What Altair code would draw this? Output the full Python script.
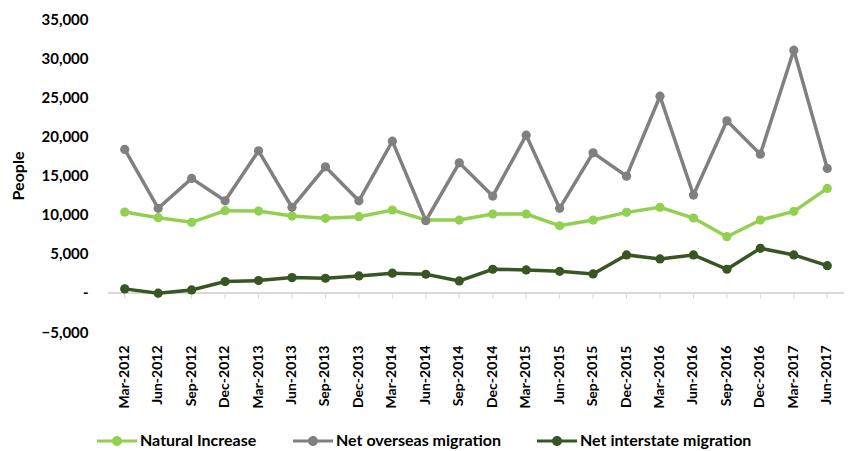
import altair as alt
import pandas as pd

quarters = ["Mar-2012", "Jun-2012", "Sep-2012", "Dec-2012",
            "Mar-2013", "Jun-2013", "Sep-2013", "Dec-2013",
            "Mar-2014", "Jun-2014", "Sep-2014", "Dec-2014",
            "Mar-2015", "Jun-2015", "Sep-2015", "Dec-2015",
            "Mar-2016", "Jun-2016", "Sep-2016", "Dec-2016",
            "Mar-2017", "Jun-2017"]

natural_increase = [10330, 9610, 9020, 10500, 10450, 9820, 9530, 9740,
                    10590, 9310, 9310, 10080, 10080, 8580, 9310, 10290,
                    10930, 9570, 7180, 9310, 10420, 13350]
net_overseas = [18330, 10800, 14630, 11770, 18150, 10930, 16110, 11770,
                19390, 9220, 16620, 12370, 20150, 10800, 17900, 14920,
                25130, 12500, 21980, 17730, 31000, 15900]
net_interstate = [510, -40, 380, 1440, 1570, 1950, 1870, 2170,
                  2510, 2380, 1530, 3020, 2930, 2760, 2420, 4850,
                  4340, 4850, 3020, 5700, 4850, 3480]
y_ticks = [-5000, 0, 5000, 10000, 15000, 20000, 25000, 30000, 35000]

series_names = ["Natural Increase", "Net overseas migration", "Net interstate migration"]
series_colors = ["#92D050", "#808080", "#375623"]

rows = []
for name, vals in zip(series_names, [natural_increase, net_overseas, net_interstate]):
    for q, v in zip(quarters, vals):
        rows.append({"Quarter": q, "Series": name, "People": v})
df = pd.DataFrame(rows)
cat_df = pd.DataFrame({"Quarter": quarters})

FONT = "Lato"
legend_path = ("M-2,-0.15 H2 V0.15 H-2 Z "
               "M0.5,0 A0.5,0.5 0 1,1 -0.5,0 A0.5,0.5 0 1,1 0.5,0 Z")

x_axis = alt.Axis(title=None, labelAngle=-90, domain=False, ticks=False,
                  grid=False, labelFontWeight="bold", labelFontSize=14,
                  labelPadding=13, labelColor="#000000", labelFont=FONT,
                  labelOverlap=False)
y_axis = alt.Axis(values=y_ticks,
                  labelExpr="datum.value == 0 ? '-\u00a0\u00a0\u00a0' : format(datum.value, ',')",
                  domain=False, ticks=False, gridColor="#D9D9D9", gridWidth=1,
                  labelFontWeight="bold", labelFontSize=15, labelColor="#000000",
                  labelPadding=20, labelFont=FONT, labelOverlap=False,
                  title="People", titleFontWeight="bold", titleFontSize=16,
                  titleColor="#000000", titleFont=FONT, titlePadding=14)
y_scale = alt.Scale(domain=[-5000, 35000], nice=False, zero=False)
x_scale = alt.Scale(padding=0)

x_enc = alt.X("Quarter:O", sort=quarters, scale=x_scale, axis=x_axis)
y_enc = alt.Y("People:Q", scale=y_scale, axis=y_axis)
color_enc = alt.Color("Series:N", sort=series_names,
                      scale=alt.Scale(domain=series_names, range=series_colors),
                      legend=alt.Legend(title=None, orient="none", direction="horizontal",
                                        legendX=-1, legendY=412, padding=0,
                                        symbolType=legend_path, symbolSize=400,
                                        symbolStrokeWidth=0,
                                        labelFontWeight="bold", labelFontSize=16,
                                        labelColor="#000000", labelFont=FONT,
                                        labelOffset=13, columnPadding=36,
                                        labelLimit=300))

lines = alt.Chart(df).mark_line(strokeWidth=3.5).encode(
    x=x_enc, y=y_enc, color=color_enc)
zero_rule = alt.Chart(cat_df).mark_rule(color="#D9D9D9", strokeWidth=1).encode(
    y=alt.YDatum(0, scale=y_scale, axis=y_axis))
ticks = alt.Chart(cat_df).mark_rule(color="#D9D9D9", strokeWidth=1, y2Offset=6).encode(
    x=alt.X("Quarter:O", sort=quarters, scale=x_scale, axis=x_axis),
    y=alt.YDatum(0, scale=y_scale, axis=y_axis), y2=alt.datum(0))
points = alt.Chart(df).mark_circle(size=85, opacity=1).encode(
    x=alt.X("Quarter:O", sort=quarters, scale=x_scale, axis=x_axis),
    y=alt.Y("People:Q", scale=y_scale, axis=y_axis),
    color=alt.Color("Series:N", sort=series_names))

chart = alt.layer(zero_rule, ticks, lines, points).properties(
    width=736, height=313,
    padding={"left": 108, "top": 19, "right": 21, "bottom": 119},
    autosize="none",
).configure(font=FONT).configure_view(stroke=None)

chart.save("out.html", embed_options={"renderer": "svg", "actions": False})
